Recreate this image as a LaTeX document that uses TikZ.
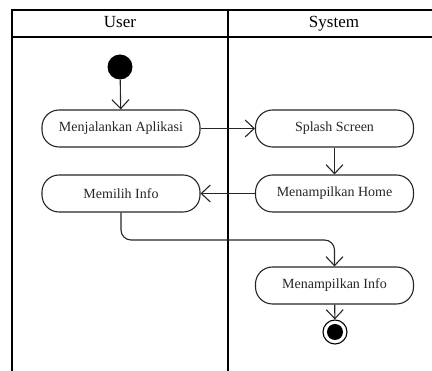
\documentclass[tikz,border=0pt]{standalone}
\usepackage{fontspec}
\setmainfont{Liberation Serif}
\usetikzlibrary{arrows.meta}
\begin{document}
\begin{tikzpicture}[x=1pt,y=-1pt,
  lane/.style={line width=2pt,black},
  action/.style={draw=black!85,line width=1.1pt,rounded corners=17pt,
    minimum width=158pt,minimum height=37pt,inner sep=0pt,
    font=\fontsize{14}{16}\selectfont,text=black!85},
  flow/.style={draw=black!85,line width=1.1pt,
    -{Straight Barb[length=9pt,width=17pt,line width=1.1pt]}},
  lanehead/.style={font=\fontsize{17}{19}\selectfont,inner sep=0pt,
    text height=11.5pt,text depth=3.5pt}]
\useasboundingbox (0,0) rectangle (432,371);
% swimlane frame
\draw[lane] (432,10) -- (12,10) -- (12,371);
\draw[lane] (12,37) -- (432,37);
\draw[lane] (228,10) -- (228,371);
\node[lanehead] (huser) at (120,24) {User};
\node[lanehead] (hsys) at (334,24) {System};
% start and end
\node[circle,fill=black,minimum size=25pt,inner sep=0pt] (start) at (120,67) {};
\node[circle,draw=black,line width=1.1pt,minimum size=24pt,inner sep=0pt] (stop) at (335,332) {};
\node[circle,fill=black,minimum size=16pt,inner sep=0pt] (stopin) at (335,332) {};
% actions
\node[action] (jalan) at (121,128.5) {Menjalankan Aplikasi};
\node[action] (splash) at (334.5,128.5) {Splash Screen};
\node[action] (home) at (334.5,193.5) {Menampilkan Home};
\node[action] (pilih) at (121,193.5) {Memilih Info};
\node[action] (info) at (334.5,285.5) {Menampilkan Info};
% transitions
\draw[flow] (start) -- (jalan);
\draw[flow] (jalan) -- (splash);
\draw[flow] (splash) -- (home);
\draw[flow] (home) -- (pilih);
\draw[flow,rounded corners=10pt] (pilih.south) -- (121,240) -- (334.5,240) -- (info.north);
\draw[flow] (info) -- (stop);
\end{tikzpicture}
\end{document}
